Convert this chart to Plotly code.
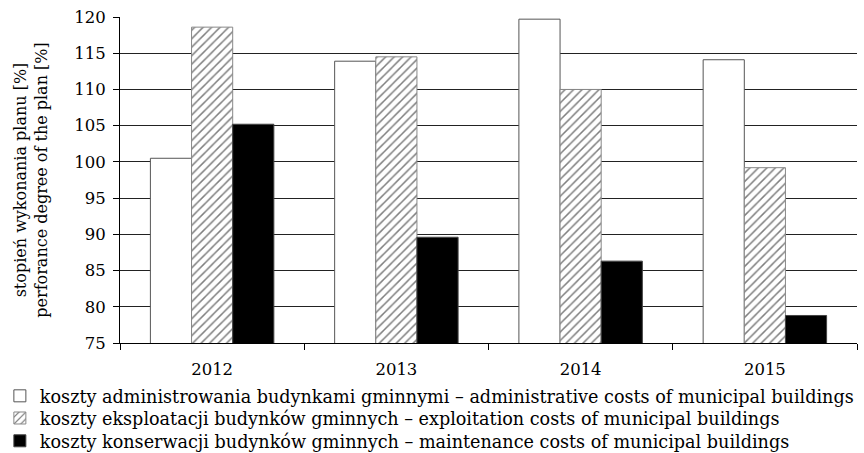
import plotly.graph_objects as go

years = ["2012", "2013", "2014", "2015"]
admin = [100.5, 113.9, 119.7, 114.1]
exploit = [118.6, 114.5, 110.0, 99.2]
maint = [105.2, 89.6, 86.3, 78.8]

names = [
    "koszty administrowania budynkami gminnymi – administrative costs of municipal buildings",
    "koszty eksploatacji budynków gminnych – exploitation costs of municipal buildings",
    "koszty konserwacji budynków gminnych – maintenance costs of municipal buildings",
]

FONT = "DejaVu Serif"
LEG_FONT = dict(family=FONT, size=17.6, color="black")

fig = go.Figure()
fig.add_trace(go.Bar(x=years, y=admin, name=names[0], legend="legend",
                     marker=dict(color="white", line=dict(color="#555", width=1))))
fig.add_trace(go.Bar(x=years, y=exploit, name=names[1], legend="legend2",
                     marker=dict(color="white", line=dict(color="#888", width=1),
                                 pattern=dict(shape="/", fgcolor="black", bgcolor="white",
                                              size=6, solidity=0.25))))
fig.add_trace(go.Bar(x=years, y=maint, name=names[2], legend="legend3",
                     marker=dict(color="black", line=dict(color="#444", width=1))))

leg_common = dict(orientation="v", x=-0.163, xanchor="left", yanchor="top",
                  font=LEG_FONT, itemwidth=30, bgcolor="rgba(0,0,0,0)")

fig.update_layout(
    width=864, height=453,
    margin=dict(l=120, r=7, t=17, b=110, autoexpand=False),
    paper_bgcolor="white", plot_bgcolor="white",
    font=dict(family=FONT, size=16, color="black"),
    barmode="group", bargap=0.33, bargroupgap=0,
    showlegend=True,
    legend=dict(y=-0.107, **leg_common),
    legend2=dict(y=-0.175, **leg_common),
    legend3=dict(y=-0.245, **leg_common),
    xaxis=dict(showline=True, linecolor="black", linewidth=1, ticks="outside",
               tickson="boundaries", ticklen=6, tickcolor="black", automargin=False,
               ticklabelstandoff=11,
               tickfont=dict(family=FONT, size=16.5), showgrid=False),
    yaxis=dict(range=[75, 120], dtick=5, showline=True, linecolor="black", linewidth=1,
               ticks="outside", ticklen=6, tickcolor="black", automargin=False,
               ticklabelstandoff=4,
               tickfont=dict(family=FONT, size=16.5),
               showgrid=True, gridcolor="#222", gridwidth=1, zeroline=False,
               title=dict(text="stopień wykonania planu [%]<br>perforance degree of the plan [%]",
                          font=dict(family=FONT, size=16), standoff=22)),
)

fig.write_html("out.html", config={"displayModeBar": False},
               post_script="document.body.style.margin='0';document.body.style.padding='0';")
